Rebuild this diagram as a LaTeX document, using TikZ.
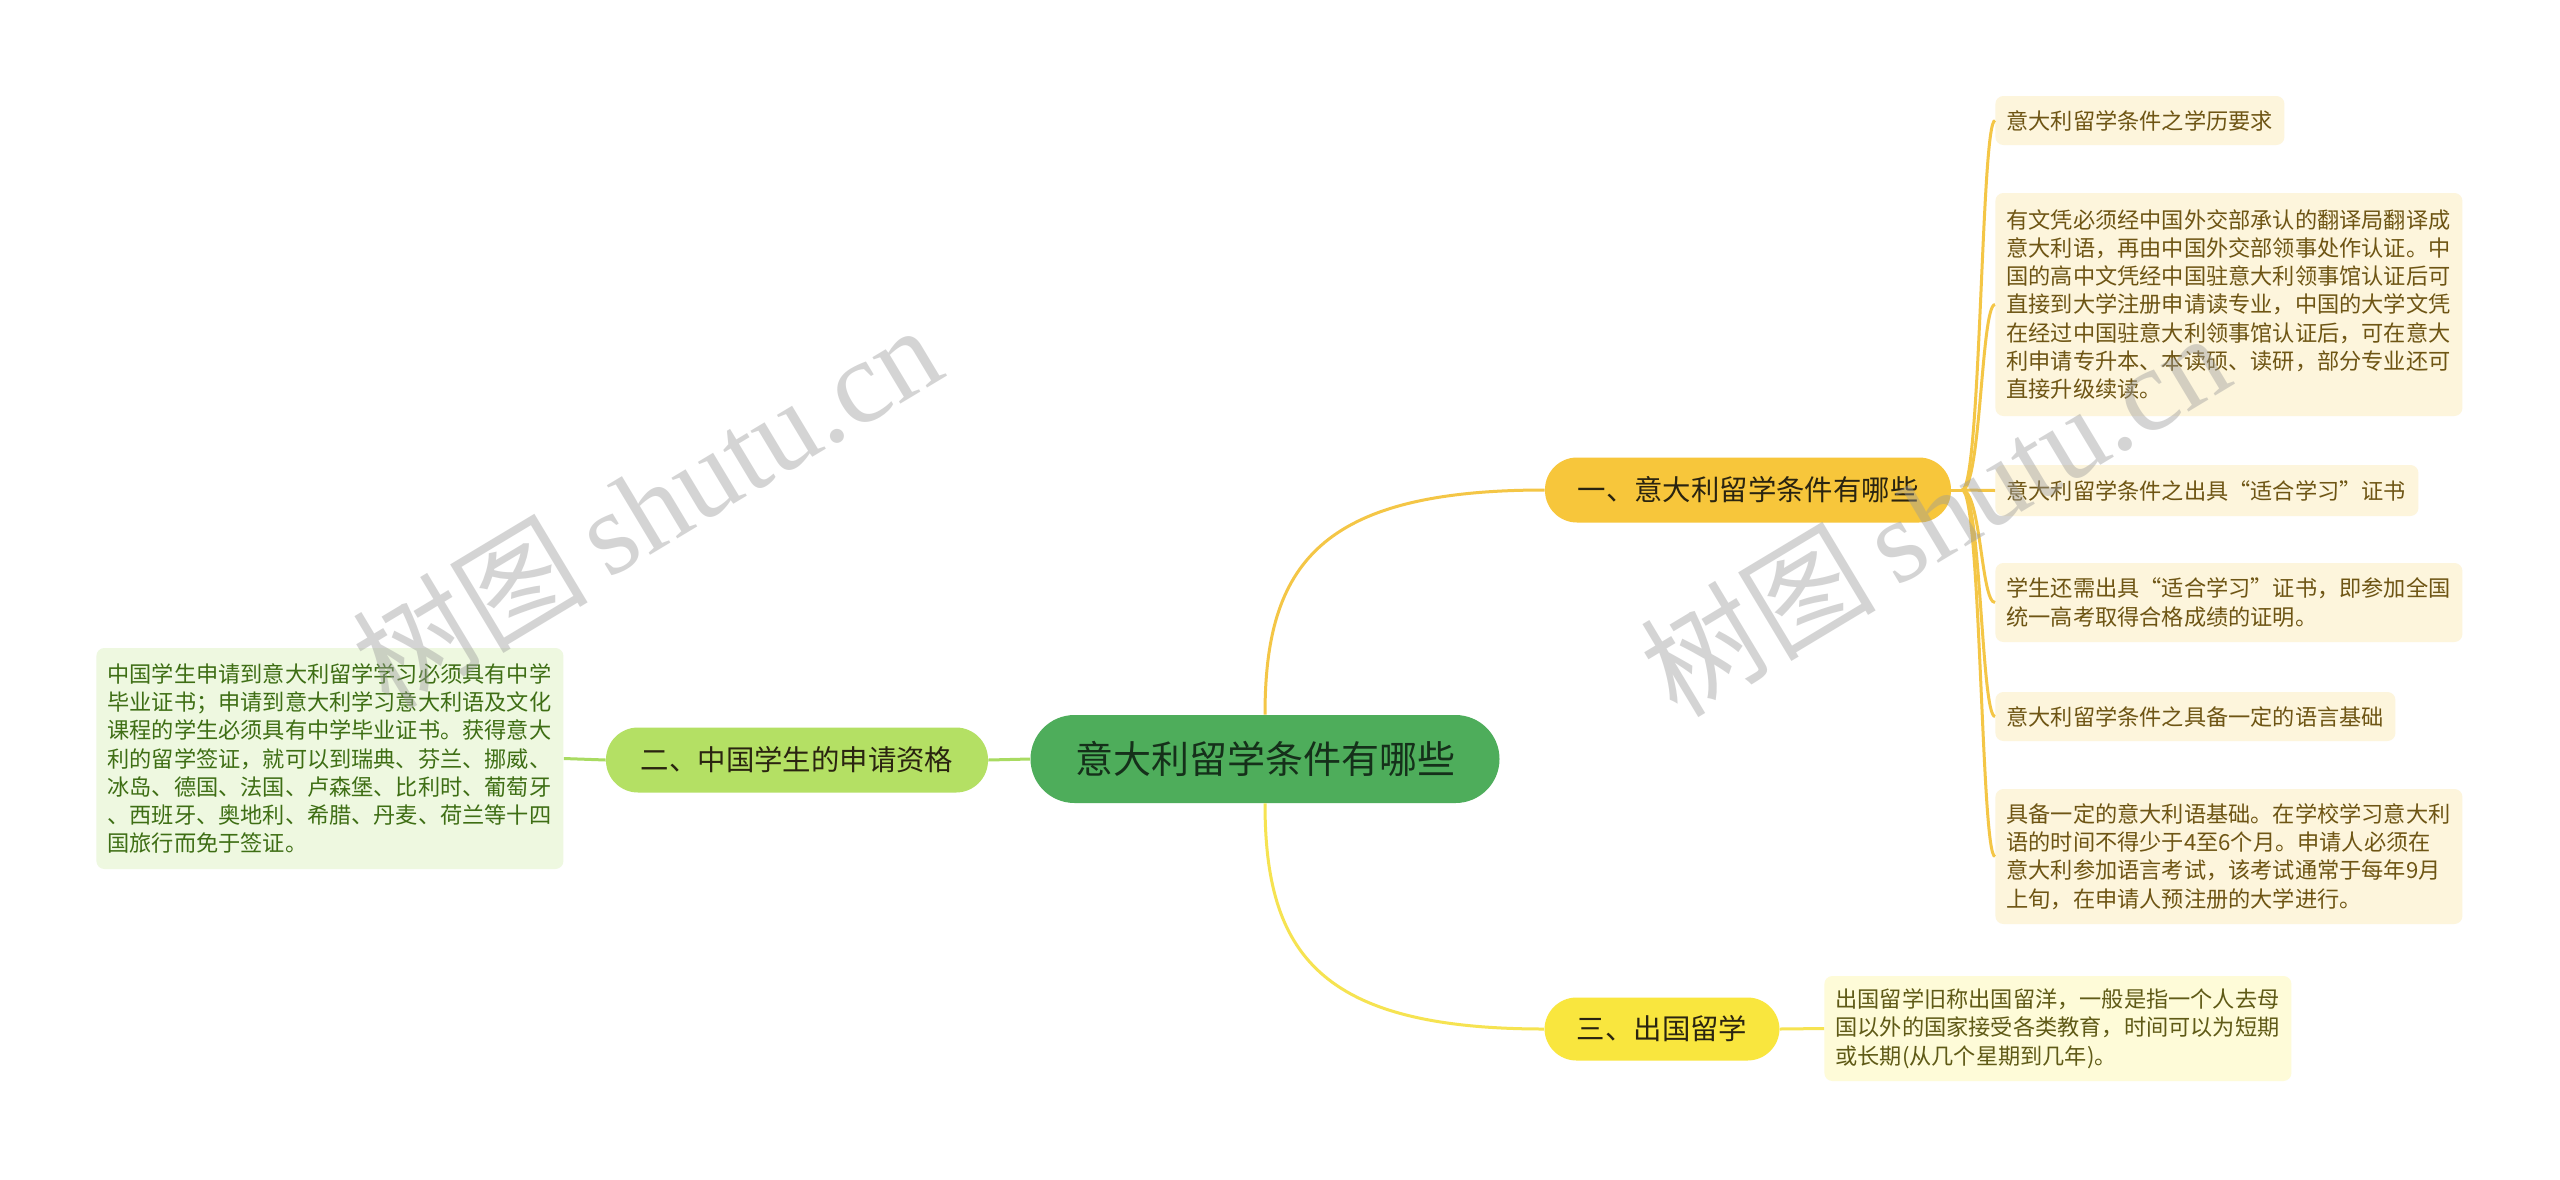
\documentclass[tikz,border=0pt]{standalone}
\usepackage{fontspec}
\newfontfamily\cjk{Noto Sans CJK SC}
\newfontfamily\wmserif{Liberation Serif}
\definecolor{rootc}{HTML}{4EAD5B}
\definecolor{roottext}{HTML}{15301A}
\definecolor{bonec}{HTML}{F7C63B}
\definecolor{btwoc}{HTML}{B4E064}
\definecolor{bthreec}{HTML}{F9E63E}
\definecolor{btext}{HTML}{2A2410}
\definecolor{leafone}{HTML}{FDF5DC}
\definecolor{leafonetext}{HTML}{6E5514}
\definecolor{leafthree}{HTML}{FEFBD8}
\definecolor{leafthreetext}{HTML}{5F5A16}
\definecolor{leaftwo}{HTML}{EEF8E0}
\definecolor{leaftwotext}{HTML}{3E6E14}
\definecolor{lineone}{HTML}{F4C646}
\definecolor{linetwo}{HTML}{A9DB62}
\definecolor{linethree}{HTML}{F6E351}
\definecolor{wm}{HTML}{9A9A9A}
\tikzset{
  rootnode/.style={fill=rootc, rounded corners=22pt, minimum width=234.5pt, minimum height=44pt,
    inner sep=0pt, text=roottext, font=\cjk\fontsize{19}{22}\selectfont},
  branchnode/.style={rounded corners=16pt, minimum height=32.5pt, inner sep=0pt, text=btext,
    font=\cjk\fontsize{14.2}{17}\selectfont},
  leafnode/.style={rounded corners=4pt, inner xsep=5.5pt, inner ysep=0pt, align=left, anchor=west,
    font=\cjk\fontsize{11.1}{14.15}\selectfont},
  lone/.style={leafnode, fill=leafone, text=leafonetext},
  ltwo/.style={leafnode, fill=leaftwo, text=leaftwotext},
  lthree/.style={leafnode, fill=leafthree, text=leafthreetext},
  conone/.style={draw=lineone, line width=1.5pt},
  contwo/.style={draw=linetwo, line width=1.5pt},
  conthree/.style={draw=linethree, line width=1.5pt},
  wmark/.style={text=wm, opacity=0.42, rotate=31, inner sep=0pt}
}
\begin{document}
\begin{tikzpicture}[x=0.5pt, y=-0.5pt]
\useasboundingbox[fill=white] (0,0) rectangle (2560,1179);

% main nodes
\node[rootnode] (root) at (1265,759) {意大利留学条件有哪些};
\node[branchnode, fill=bonec, minimum width=203pt] (b1) at (1748,490) {一、意大利留学条件有哪些};
\node[branchnode, fill=btwoc, minimum width=191pt] (b2) at (797,760) {二、中国学生的申请资格};
\node[branchnode, fill=bthreec, minimum width=117.5pt, minimum height=31.5pt] (b3) at (1662,1029) {三、出国留学};

% leaves of branch one
\node[lone, text width=133.5pt, minimum height=24.5pt] (l1) at (1995,120.5) {意大利留学条件之学历要求};
\node[lone, text width=222.5pt, minimum height=111.5pt] (l2) at (1995,304.5) {有文凭必须经中国外交部承认的翻译局翻译成\\意大利语，再由中国外交部领事处作认证。中\\国的高中文凭经中国驻意大利领事馆认证后可\\直接到大学注册申请读专业，中国的大学文凭\\在经过中国驻意大利领事馆认证后，可在意大\\利申请专升本、本读硕、读研，部分专业还可\\直接升级续读。};
\node[lone, text width=200.5pt, minimum height=25.5pt] (l3) at (1995,490.5) {意大利留学条件之出具“适合学习”证书};
\node[lone, text width=222.5pt, minimum height=39.5pt] (l4) at (1995,602.5) {学生还需出具“适合学习”证书，即参加全国\\统一高考取得合格成绩的证明。};
\node[lone, text width=189pt, minimum height=24.5pt] (l5) at (1995,716.5) {意大利留学条件之具备一定的语言基础};
\node[lone, text width=222.5pt, minimum height=67.5pt] (l6) at (1995,856.5) {具备一定的意大利语基础。在学校学习意大利\\语的时间不得少于4至6个月。申请人必须在\\意大利参加语言考试，该考试通常于每年9月\\上旬，在申请人预注册的大学进行。};

% leaf of branch three
\node[lthree, text width=222.5pt, minimum height=52.5pt] (l7) at (1824,1028.5) {出国留学旧称出国留洋，一般是指一个人去母\\国以外的国家接受各类教育，时间可以为短期\\或长期(从几个星期到几年)。};

% leaf of branch two
\node[ltwo, text width=222.5pt, minimum height=110.5pt] (l8) at (96,758.5) {中国学生申请到意大利留学学习必须具有中学\\毕业证书；申请到意大利学习意大利语及文化\\课程的学生必须具有中学毕业证书。获得意大\\利的留学签证，就可以到瑞典、芬兰、挪威、\\冰岛、德国、法国、卢森堡、比利时、葡萄牙\\、西班牙、奥地利、希腊、丹麦、荷兰等十四\\国旅行而免于签证。};

% connectors from root
\draw[conone] (root.north) .. controls +(0,-150) and +(-225,0) .. (b1.west);
\draw[conthree] (root.south) .. controls +(0,150) and +(-225,0) .. (b3.west);
\draw[contwo] (root.west) -- (b2.east);
\draw[contwo] (b2.west) -- (l8.east);
\draw[conthree] (b3.east) -- (l7.west);

% connectors from branch one
\coordinate (hub) at (1962,490);
\coordinate (trunk) at (1981,490);
\draw[conone] (b1.east) -- (hub);
\foreach \l in {l1,l2,l4,l5,l6}{
  \draw[conone] (hub) .. controls (trunk) and (trunk |- \l.west) .. (\l.west);
}
\draw[conone] (hub) -- (l3.west);

% watermarks
\node[wmark] (wmone) at (646,505) {\cjk\fontsize{59}{62}\selectfont 树图\,\wmserif shutu.cn};
\node[wmark] (wmtwo) at (1934,513) {\cjk\fontsize{59}{62}\selectfont 树图\,\wmserif shutu.cn};
\end{tikzpicture}
\end{document}
